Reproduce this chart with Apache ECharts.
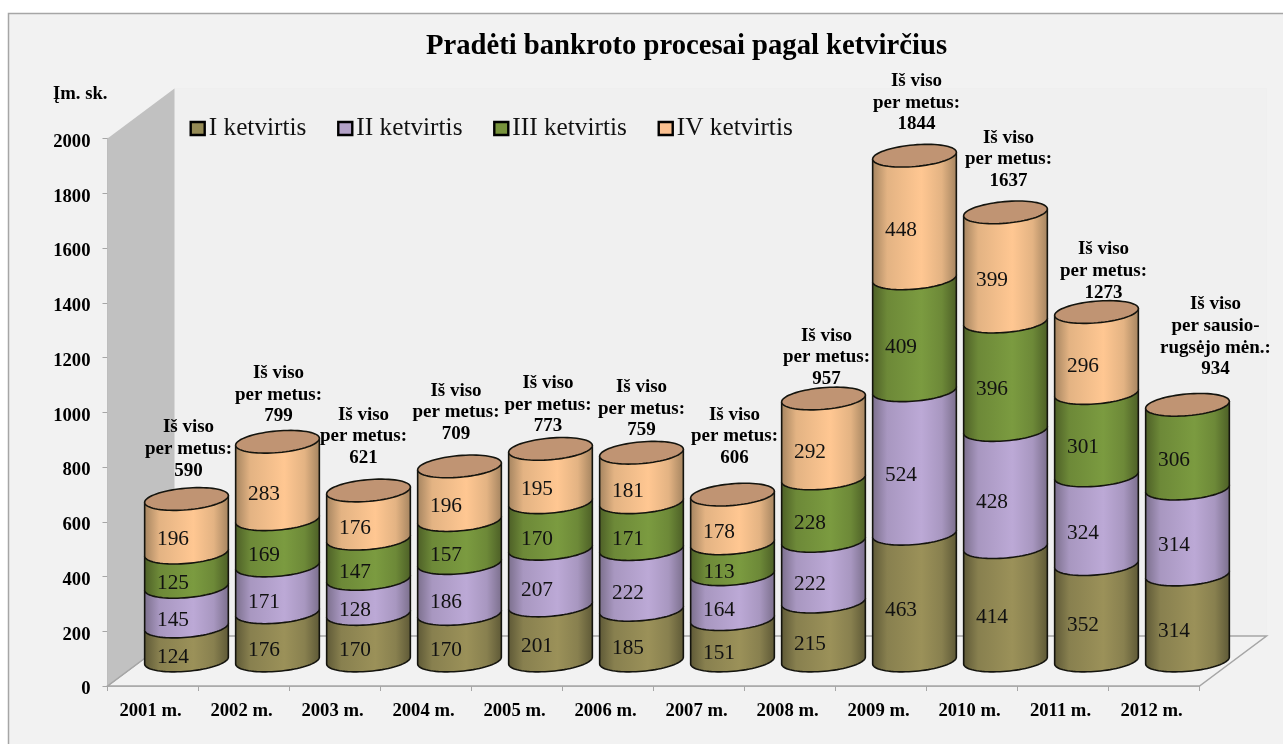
<!DOCTYPE html>
<html>
<head>
<meta charset="utf-8">
<style>html,body{margin:0;padding:0;background:#fff}#c{width:1283px;height:744px}</style>
<script src="https://cdn.jsdelivr.net/npm/echarts@6/dist/echarts.min.js"></script>
</head>
<body>
<div id="c"></div>
<script>
const years = ['2001 m.','2002 m.','2003 m.','2004 m.','2005 m.','2006 m.','2007 m.','2008 m.','2009 m.','2010 m.','2011 m.','2012 m.'];
const q1 = [124,176,170,170,201,185,151,215,463,414,352,314];
const q2 = [145,171,128,186,207,222,164,222,524,428,324,314];
const q3 = [125,169,147,157,170,171,113,228,409,396,301,306];
const q4 = [196,283,176,196,195,181,178,292,448,399,296,null];
const totals = [590,799,621,709,773,759,606,957,1844,1637,1273,934];
const quarterNames = ['I ketvirtis','II ketvirtis','III ketvirtis','IV ketvirtis'];
const totalCaptions = Array(11).fill('Iš viso\nper metus:').concat('Iš viso\nper sausio-\nrugsėjo mėn.:');
const yTickInterval = 200;

// Placement of the hand-positioned total captions: [dx from cylinder axis, gap above lid]
const captionNudge = [[2,29],[1,26],[-5,33],[-3.5,33],[-2.5,23],[0,23],[2,37],[3,20],[2,32],[3,32],[7,20],[28,36]];

const SERIF = '"Liberation Serif","Times New Roman",serif';
const palette = [
  {edge:'#5d5836', mid:'#9b9159', legend:'#948a55'},
  {edge:'#7a6e8b', mid:'#bca9d6', legend:'#b3a2c7'},
  {edge:'#4c5e26', mid:'#7b9b40', legend:'#77933c'},
  {edge:'#a3835f', mid:'#ffc792', legend:'#fac090'}
];
const G = {left:107.5, right:1199.5, top:138.5, bottom:686};
const DEPTH = {x:67, y:-50};
const CYL = {dx:33.5, dy:-25.5, rx:42, ry:10.8, tilt:5*Math.PI/180};
const LABEL = {dx:-13.5, dy:13.5};

function ellipsePt(cx, cy, t){
  const c = Math.cos(CYL.tilt), s = Math.sin(CYL.tilt);
  const a = CYL.rx*Math.cos(t), b = CYL.ry*Math.sin(t);
  return [cx + a*c + b*s, cy - a*s + b*c];
}
function frontArc(cx, cy, fromLeft){
  const pts = [];
  for(let k=0;k<=40;k++){
    const t = Math.PI*k/40;
    pts.push(ellipsePt(cx,cy, fromLeft ? Math.PI-t : t));
  }
  return pts;
}
function fullEllipse(cx, cy){
  const pts = [];
  for(let k=0;k<72;k++) pts.push(ellipsePt(cx,cy,2*Math.PI*k/72));
  return pts;
}
function wallGradient(p){
  return new echarts.graphic.LinearGradient(0,0,1,0,[
    {offset:0,color:p.edge},
    {offset:0.18,color:echarts.color.lerp(0.7,[p.edge,p.mid])},
    {offset:0.58,color:p.mid},
    {offset:0.82,color:echarts.color.lerp(0.7,[p.edge,p.mid])},
    {offset:1,color:p.edge}
  ]);
}
function segmentRenderer(p){
  return function(params, api){
    const i = api.value(0), v = api.value(1), base = api.value(2);
    const low = api.coord([i, base]), high = api.coord([i, base+v]), mid = api.coord([i, base+v/2]);
    const cx = low[0]+CYL.dx, yLow = low[1]+CYL.dy, yHigh = high[1]+CYL.dy;
    const arc = frontArc(cx, yLow, true);
    const l = ellipsePt(cx, yHigh, Math.PI), r = ellipsePt(cx, yHigh, 0);
    const pts = [l].concat(arc, [r]);
    return {type:'group', children:[
      {type:'polygon', shape:{points:pts},
       style:{fill:wallGradient(p), stroke:'#14140e', lineWidth:1.6, lineJoin:'round'}},
      {type:'text', z2:5, style:{text:String(v), x:cx+LABEL.dx, y:mid[1]+CYL.dy+LABEL.dy,
        font:'21.33px '+SERIF, fill:'#111', align:'center', verticalAlign:'middle',
        textAlign:'center', textVerticalAlign:'middle'}}
    ]};
  };
}
function lidRenderer(params, api){
  const i = api.value(0), total = api.value(1);
  const top = api.coord([i,total]);
  const cx = top[0]+CYL.dx, cy = top[1]+CYL.dy;
  const nudge = captionNudge[i];
  return {type:'group', children:[
    {type:'polygon', shape:{points:fullEllipse(cx,cy)},
     style:{fill:'#c09473', stroke:'#14140e', lineWidth:1.6}},
    {type:'text', style:{text:totalCaptions[i]+'\n'+total, x:cx+nudge[0], y:cy-nudge[1]+11.5,
      font:'bold 19px '+SERIF, lineHeight:21.7, fill:'#000', align:'center', verticalAlign:'bottom',
      textAlign:'center', textVerticalAlign:'bottom'}}
  ]};
}
function wallRenderer(params, api){
  const b = params.coordSys;
  const x0=b.x, x1=b.x+b.width, yT=b.y, yB=b.y+b.height;
  const bx0=x0+DEPTH.x, bx1=x1+DEPTH.x, byT=yT+DEPTH.y, byB=yB+DEPTH.y;
  return {type:'group', silent:true, children:[
    {type:'rect', shape:{x:bx0,y:byT,width:bx1-bx0,height:byB-byT},
     style:{fill:'#f0f0f0', stroke:'#efefef', lineWidth:1}},
    {type:'polygon', shape:{points:[[x0,yB],[bx0,byB],[bx1,byB],[x1,yB]]},
     style:{fill:'#f2f2f2', stroke:'#a6a6a6', lineWidth:1.5}},
    {type:'polygon', shape:{points:[[x0,yT],[bx0,byT],[bx0,byB],[x0,yB]]},
     style:{fill:'#c1c1c1', stroke:null}},
    {type:'line', shape:{x1:x0,y1:yB,x2:bx0,y2:byB}, style:{stroke:'#a6a6a6', lineWidth:1.5}}
  ]};
}

let running = years.map(()=>0);
const quarterSeries = [q1,q2,q3,q4].map((q,si)=>{
  const rows = [];
  q.forEach((v,i)=>{ if(v!=null){ rows.push([i,v,running[i]]); running[i]+=v; } });
  return {
    name:quarterNames[si], type:'custom', z:3+si, data:rows,
    encode:{x:0,y:1}, silent:true,
    itemStyle:{color:palette[si].legend},
    renderItem:segmentRenderer(palette[si])
  };
});

const chart = echarts.init(document.getElementById('c'), null, {renderer:'canvas', width:1283, height:744});
chart.setOption({
  animation:false,
  backgroundColor:'#ffffff',
  textStyle:{fontFamily:SERIF},
  graphic:[{type:'rect', z:-10, silent:true, shape:{x:8.5,y:13.5,width:1300,height:760},
            style:{fill:'#f2f2f2', stroke:'#a6a6a6', lineWidth:1.5}}],
  title:[
    {text:'Pradėti bankroto procesai pagal ketvirčius', left:681.5, top:42, textAlign:'center', textVerticalAlign:'middle',
     textStyle:{fontFamily:SERIF, fontWeight:'bold', fontSize:28.67, color:'#000'}},
    {text:'Įm. sk.', left:48, top:80, textStyle:{fontFamily:SERIF, fontWeight:'bold', fontSize:18.67, color:'#000'}}
  ],
  legend:{
    data:quarterNames, left:184.5, top:111, itemWidth:14, itemHeight:13, itemGap:30.6, icon:'rect',
    itemStyle:{borderColor:'#000', borderWidth:2.4},
    textStyle:{fontFamily:SERIF, fontSize:25.33, color:'#111', padding:[0,0,0,-1]}
  },
  grid:{left:G.left, top:G.top, width:G.right-G.left, height:G.bottom-G.top, containLabel:false},
  xAxis:{type:'category', data:years,
    axisLine:{lineStyle:{color:'#a6a6a6', width:1.5}},
    axisTick:{show:true, length:5, lineStyle:{color:'#a6a6a6', width:1}},
    axisLabel:{margin:16, padding:[0,5,0,0], interval:0, fontFamily:SERIF, fontWeight:'bold', fontSize:18.67, color:'#000'},
    splitLine:{show:false}},
  yAxis:{type:'value', min:0, max:2000, interval:yTickInterval,
    axisLine:{show:true, lineStyle:{color:'#a6a6a6', width:1.5}},
    axisTick:{show:true, length:5, lineStyle:{color:'#a6a6a6', width:1}},
    axisLabel:{margin:17, verticalAlign:'top', lineHeight:7, formatter:v=>String(v), fontFamily:SERIF, fontWeight:'bold', fontSize:18.67, color:'#000'},
    splitLine:{show:false}},
  series:[
    {type:'custom', name:'sienos', z:1, silent:true, data:[[0,0]], encode:{x:0,y:1}, renderItem:wallRenderer}
  ].concat(quarterSeries, [
    {type:'custom', name:'Iš viso', z:8, silent:true, data:totals.map((t,i)=>[i,t]), encode:{x:0,y:1}, renderItem:lidRenderer}
  ])
});
</script>
</body>
</html>
